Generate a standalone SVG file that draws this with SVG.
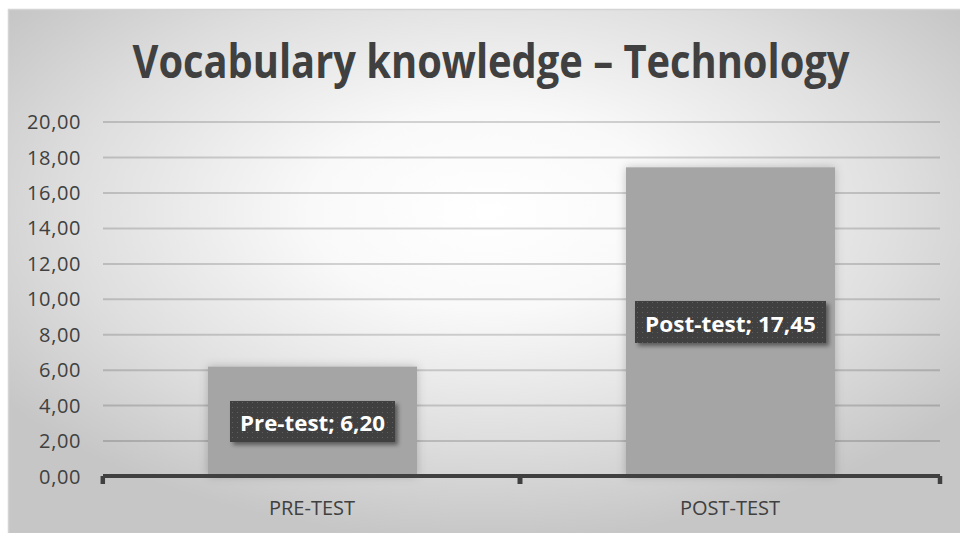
<svg xmlns="http://www.w3.org/2000/svg" width="960" height="533" viewBox="0 0 960 533">
  <defs>
    <radialGradient id="bg" cx="0.5" cy="0.38" r="0.62" fx="0.5" fy="0.38">
      <stop offset="0" stop-color="#ffffff"/>
      <stop offset="0.3" stop-color="#f9f9f9"/>
      <stop offset="0.7" stop-color="#dedede"/>
      <stop offset="1" stop-color="#c6c6c6"/>
    </radialGradient>
    <pattern id="dots" width="5" height="5" patternUnits="userSpaceOnUse">
      <rect width="5" height="5" fill="#404040"/>
      <rect x="2" y="2" width="1" height="1" fill="#5e5e5e"/>
    </pattern>
    <filter id="barShadow" x="-20%" y="-20%" width="140%" height="140%">
      <feDropShadow dx="0" dy="0" stdDeviation="5" flood-color="#000" flood-opacity="0.22"/>
    </filter>
    <filter id="lblShadow" x="-20%" y="-30%" width="140%" height="170%">
      <feDropShadow dx="3" dy="3" stdDeviation="2" flood-color="#000" flood-opacity="0.45"/>
    </filter>
  </defs>
  <style>
    .grid { stroke: #000; stroke-opacity: 0.16; stroke-width: 2; }
    .ylab { font-family: "Open Sans", "Liberation Sans", sans-serif; font-size: 20px; fill: #404040; text-anchor: end; letter-spacing: 0.6px; }
    .xlab { font-family: "Open Sans", "Liberation Sans", sans-serif; font-size: 20px; fill: #404040; text-anchor: middle; }
    .bar { fill: #a5a5a5; }
    .lbl { font-family: "Open Sans", "Liberation Sans", sans-serif; font-size: 22px; font-weight: bold; fill: #ffffff; text-anchor: middle; }
    .axis { stroke: #404040; fill: none; }
  </style>
  <rect x="0" y="0" width="960" height="533" fill="#ffffff"/>
  <rect id="chart-area" x="8.5" y="9.5" width="960" height="530" fill="url(#bg)" stroke="#d4d4d4" stroke-width="1.5"/>

  <text id="title" x="491" y="78" font-family="Open Sans, Liberation Sans, sans-serif" font-size="46" font-weight="bold" fill="#404040" text-anchor="middle" textLength="717" lengthAdjust="spacingAndGlyphs">Vocabulary knowledge – Technology</text>

  <g id="gridlines">
    <line class="grid" x1="103" y1="122.1" x2="940" y2="122.1"/>
    <line class="grid" x1="103" y1="157.5" x2="940" y2="157.5"/>
    <line class="grid" x1="103" y1="193" x2="940" y2="193"/>
    <line class="grid" x1="103" y1="228.4" x2="940" y2="228.4"/>
    <line class="grid" x1="103" y1="263.9" x2="940" y2="263.9"/>
    <line class="grid" x1="103" y1="299.3" x2="940" y2="299.3"/>
    <line class="grid" x1="103" y1="334.7" x2="940" y2="334.7"/>
    <line class="grid" x1="103" y1="370.2" x2="940" y2="370.2"/>
    <line class="grid" x1="103" y1="405.6" x2="940" y2="405.6"/>
    <line class="grid" x1="103" y1="441.1" x2="940" y2="441.1"/>
  </g>

  <g id="y-axis-labels">
    <text class="ylab" x="81" y="129">20,00</text>
    <text class="ylab" x="81" y="164.5">18,00</text>
    <text class="ylab" x="81" y="200">16,00</text>
    <text class="ylab" x="81" y="235.4">14,00</text>
    <text class="ylab" x="81" y="270.9">12,00</text>
    <text class="ylab" x="81" y="306.3">10,00</text>
    <text class="ylab" x="81" y="341.7">8,00</text>
    <text class="ylab" x="81" y="377.2">6,00</text>
    <text class="ylab" x="81" y="412.6">4,00</text>
    <text class="ylab" x="81" y="448.1">2,00</text>
    <text class="ylab" x="81" y="483.5">0,00</text>
  </g>

  <g id="bar-pre-test">
    <rect class="bar" x="208" y="366.6" width="209" height="109.4" filter="url(#barShadow)"/>
  </g>
  <g id="bar-post-test">
    <rect class="bar" x="626" y="167.3" width="209" height="308.7" filter="url(#barShadow)"/>
  </g>

  <g id="connectors">
    <path class="axis" d="M103 476 H940" stroke-width="4"/>
    <path class="axis" d="M102.8 476 V484" stroke-width="4.5"/>
    <path class="axis" d="M520 476 V484" stroke-width="5"/>
    <path class="axis" d="M940 476 V484" stroke-width="4.5"/>
  </g>

  <g id="label-pre-test">
    <rect x="230" y="401" width="165" height="41" fill="url(#dots)" filter="url(#lblShadow)"/>
    <text class="lbl" x="312.5" y="431" textLength="145" lengthAdjust="spacingAndGlyphs">Pre-test; 6,20</text>
  </g>
  <g id="label-post-test">
    <rect x="635" y="301" width="191" height="42" fill="url(#dots)" filter="url(#lblShadow)"/>
    <text class="lbl" x="730.5" y="332" textLength="171" lengthAdjust="spacingAndGlyphs">Post-test; 17,45</text>
  </g>

  <g id="x-axis-labels">
    <text class="xlab" x="312" y="515">PRE-TEST</text>
    <text class="xlab" x="730" y="515">POST-TEST</text>
  </g>
</svg>
